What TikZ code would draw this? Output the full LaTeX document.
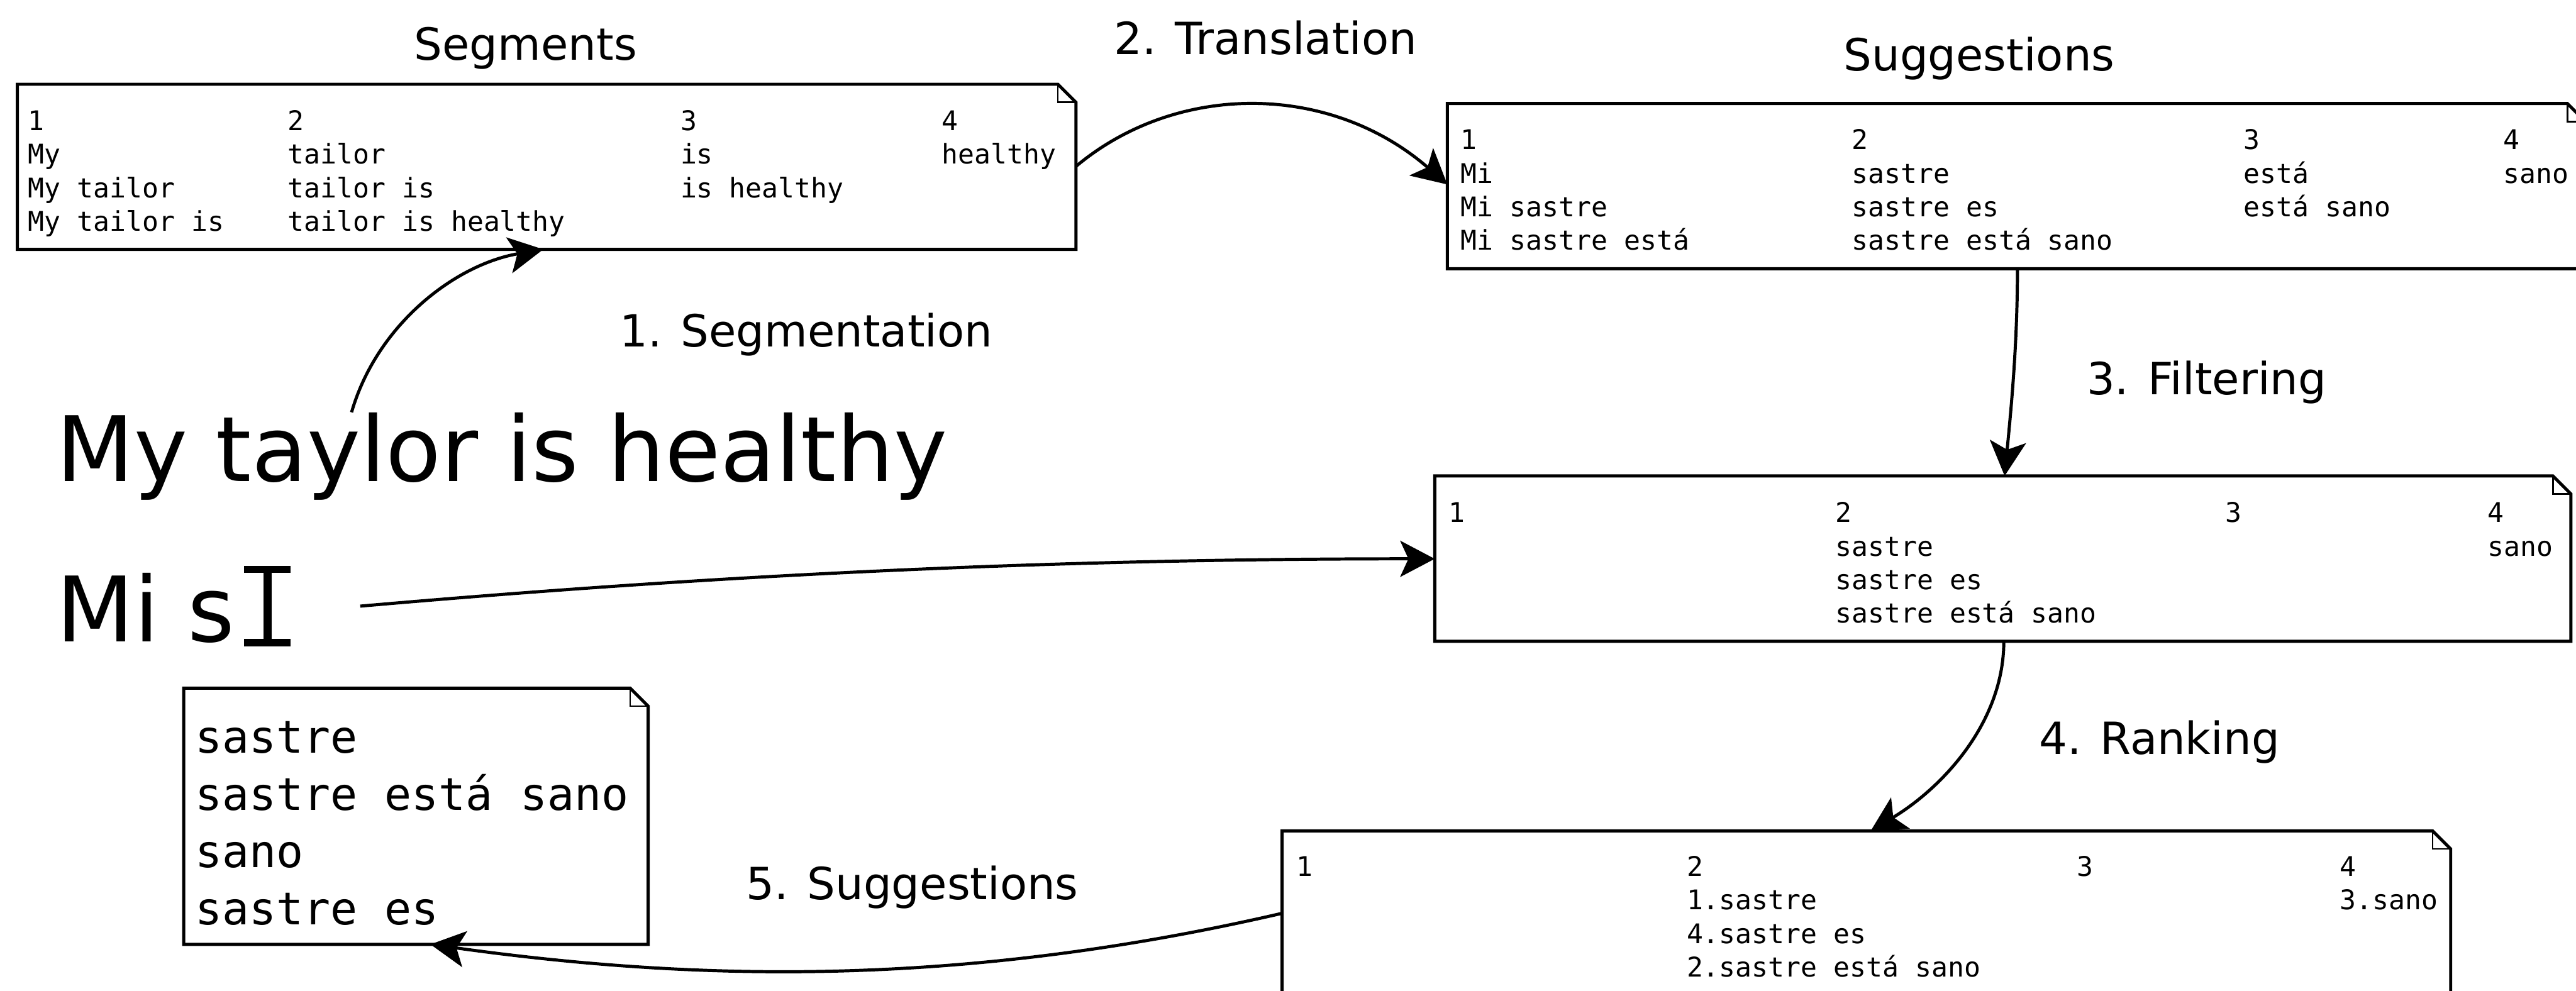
\documentclass[tikz,border=0pt]{standalone}
\usepackage{fontspec}
\setmainfont{DejaVu Sans}
\newfontfamily\monof{DejaVu Sans Mono}
\usetikzlibrary{arrows.meta,calc}
\newcommand\drawnote[1]{%
  \draw[boxline] (#1.north west) -- ([xshift=-11pt]#1.north east) -- ([yshift=-11pt]#1.north east) -- (#1.south east) -- (#1.south west) -- cycle;
  \draw[foldline] ([xshift=-11pt]#1.north east) -- ([xshift=-11pt,yshift=-11pt]#1.north east) -- ([yshift=-11pt]#1.north east);
}
\newcommand\monospaces{\spaceskip=0.6021em\relax\xspaceskip=0.6021em\relax}
\begin{document}
\begin{tikzpicture}[x=1pt,y=-1pt,
  boxline/.style={line width=1.9pt},
  foldline/.style={line width=1pt},
  notebox/.style={draw=none, inner sep=0pt, anchor=north west},
  cell/.style={font=\monof\fontsize{16.5}{20.4}\selectfont, anchor=base west, inner sep=0pt, text width=200pt, align=flush left, execute at begin node=\monospaces},
  bigcell/.style={font=\monof\fontsize{27.4}{34.8}\selectfont, anchor=base west, inner sep=0pt, text width=270pt, align=flush left, execute at begin node=\monospaces},
  lbl/.style={font=\fontsize{27}{32}\selectfont, anchor=base west, inner sep=0pt},
  big/.style={font=\fontsize{55}{66}\selectfont, anchor=base west, inner sep=0pt},
  conn/.style={line width=1.9pt, -{Stealth[length=21pt,width=22pt,inset=5pt]}},
]
\useasboundingbox (0,0) rectangle (1568,603);
\fill[white] (0,0) rectangle (1568,603);
\clip (0,0) rectangle (1568,603);

% note boxes
\node[notebox, minimum width=643.9pt, minimum height=100.1pt] (b1) at (10.6,51.3) {};
\node[notebox, minimum width=692.3pt, minimum height=100.2pt] (b2) at (881,63) {};
\node[notebox, minimum width=691.2pt, minimum height=100.3pt] (b3) at (873.3,289.7) {};
\node[notebox, minimum width=710.9pt, minimum height=120pt] (b4) at (780.4,505.8) {};
\node[notebox, minimum width=282.3pt, minimum height=155.6pt] (b5) at (111.8,418.9) {};
\drawnote{b1}
\drawnote{b2}
\drawnote{b3}
\drawnote{b4}
\drawnote{b5}

% box 1: segments
\node[cell] (b1c1) at (17,79.5) {1\\My\\My tailor\\My tailor is};
\node[cell] (b1c2) at (175,79.5) {2\\tailor\\tailor is\\tailor is healthy};
\node[cell, text width=150pt] (b1c3) at (414,79.5) {3\\is\\is healthy};
\node[cell, text width=75pt] (b1c4) at (573,79.5) {4\\healthy};

% box 2: suggestions
\node[cell] (b2c1) at (889,91.1) {1\\Mi\\Mi sastre\\Mi sastre está};
\node[cell] (b2c2) at (1127,91.1) {2\\sastre\\sastre es\\sastre está sano};
\node[cell, text width=150pt] (b2c3) at (1365.5,91.1) {3\\está\\está sano};
\node[cell, text width=40pt] (b2c4) at (1523.5,91.1) {4\\sano};

% box 3: filtered
\node[cell] (b3c1) at (881.5,318) {1};
\node[cell] (b3c2) at (1117,318) {2\\sastre\\sastre es\\sastre está sano};
\node[cell, text width=150pt] (b3c3) at (1354.5,318) {3};
\node[cell, text width=45pt] (b3c4) at (1514,318) {4\\sano};

% box 4: ranked
\node[cell] (b4c1) at (789,533.5) {1};
\node[cell] (b4c2) at (1026.5,533.5) {2\\1.sastre\\4.sastre es\\2.sastre está sano};
\node[cell, text width=150pt] (b4c3) at (1264,533.5) {3};
\node[cell, text width=60pt] (b4c4) at (1424,533.5) {4\\3.sano};

% box 5: final suggestions
\node[bigcell] (b5t) at (118.5,458.4) {sastre\\sastre está sano\\sano\\sastre es};

% labels
\node[lbl] (lseg) at (252,36.5) {Segments};
\node[lbl] (ltra) at (678,33) {2. Translation};
\node[lbl] (lsug) at (1122,43) {Suggestions};
\node[lbl] (lsgm) at (377,211) {1. Segmentation};
\node[lbl] (lfil) at (1270,240.3) {3. Filtering};
\node[lbl] (lrank) at (1241,459) {4. Ranking};
\node[lbl] (lsug2) at (454,547.6) {5. Suggestions};

% source text and typing
\node[big] (mt) at (34,293) {My taylor is healthy};
\node[big] (mis) at (34,390.5) {Mi s};
\node[draw=none, minimum width=28pt, minimum height=48.6pt, inner sep=0pt] (cur) at (162.8,369) {};
\fill (cur.north west) rectangle ([yshift=-4.4pt]cur.north east);
\fill ([yshift=4.4pt]cur.south west) rectangle (cur.south east);
\fill ([xshift=-2.5pt]cur.north) rectangle ([xshift=2.5pt]cur.south);

% connectors
\draw[conn] ([xshift=180pt]mt.north west) .. controls +(15.2,-52.9) and +(-54.2,9.4) .. ([xshift=320.1pt]b1.south west);
\draw[conn] ([yshift=-50pt]b1.north east) .. controls +(61.2,-51.3) and +(-71.8,-62.3) .. ([yshift=-49.3pt]b2.north west);
\draw[conn] ([xshift=347pt]b2.south west) .. controls +(0,46.6) and +(3.8,-39.5) .. ([xshift=346.9pt]b3.north west);
\draw[conn] ([xshift=346.4pt]b3.south west) .. controls +(0,50) and +(42.8,-25.7) .. ([xshift=358.3pt]b4.north west);
\draw[conn] ([yshift=-50.2pt]b4.north west) .. controls +(-190.4,44) and +(168,23.5) .. ([xshift=150.2pt]b5.south west);
\draw[conn] ([xshift=42.3pt]cur.east) .. controls +(230,-20.1) and +(-223.2,0) .. ([yshift=-50.5pt]b3.north west);
\end{tikzpicture}
\end{document}
